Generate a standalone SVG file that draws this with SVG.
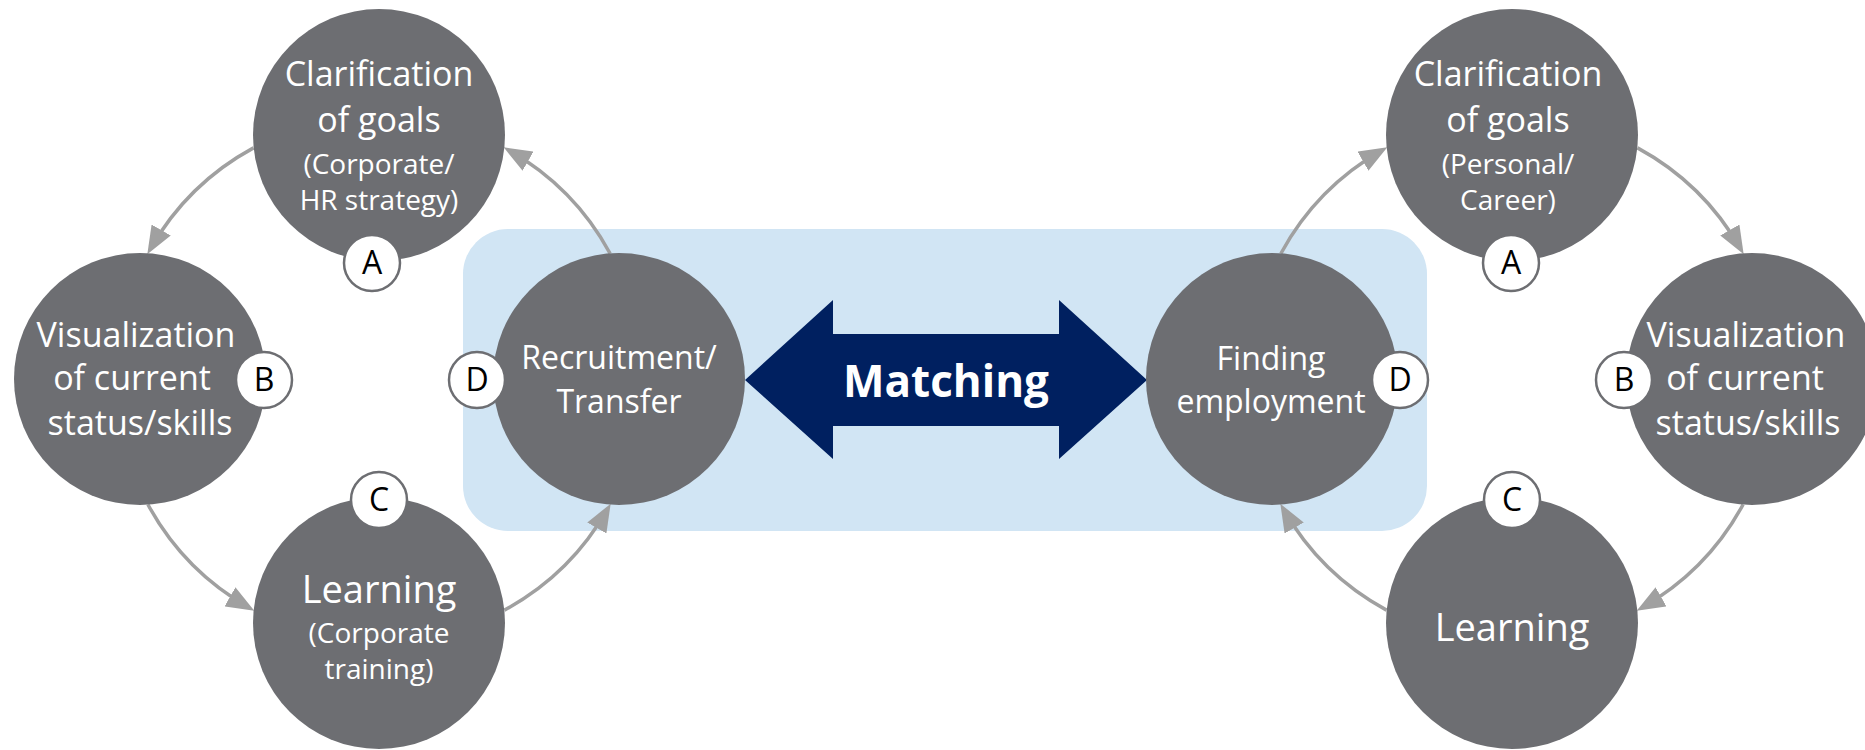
<svg xmlns="http://www.w3.org/2000/svg" width="1865" height="750" viewBox="0 0 1865 750">
  <style>
    .node { fill: #6d6e72; }
    .txt { font-family: "Open Sans", "Noto Sans", "Liberation Sans", sans-serif; fill: #ffffff; text-anchor: middle; }
    .big { font-size: 34px; }
    .small { font-size: 28px; }
    .learn { font-size: 38px; }
    .mid { font-size: 32px; }
    .badge circle { fill: #ffffff; stroke: #6d6e72; stroke-width: 2.5; }
    .badge text { font-family: "Open Sans", "Noto Sans", "Liberation Sans", sans-serif; font-size: 32px; fill: #000000; text-anchor: middle; }
    .flow { fill: none; stroke: #a0a0a0; stroke-width: 3.5; marker-end: url(#head); }
  </style>
  <defs>
    <marker id="head" markerUnits="userSpaceOnUse" markerWidth="28" markerHeight="22" viewBox="0 0 28 22" refX="22" refY="11" orient="auto">
      <path d="M0,0 L28,11 L0,22 Z" fill="#a0a0a0"/>
    </marker>
  </defs>

  <rect width="1865" height="750" fill="#ffffff"/>

  <!-- matching zone backdrop -->
  <rect id="matching-zone" x="463" y="229" width="964" height="302" rx="45" ry="45" fill="#d1e5f4"/>

  <!-- cycle connectors -->
  <g id="connectors">
    <!-- corporate cycle (counter-clockwise) -->
    <path class="flow" d="M253.5,147.9 A263,263 0 0 0 150.3,249.1"/>
    <path class="flow" d="M147.9,504.5 A263,263 0 0 0 249.1,607.7"/>
    <path class="flow" d="M504.5,610.1 A263,263 0 0 0 607.7,508.9"/>
    <path class="flow" d="M610.1,253.5 A263,263 0 0 0 508.9,150.3"/>
    <!-- personal cycle (clockwise) -->
    <path class="flow" d="M1280.9,253.5 A263,263 0 0 1 1382.1,150.3"/>
    <path class="flow" d="M1637.5,147.9 A263,263 0 0 1 1740.7,249.1"/>
    <path class="flow" d="M1743.1,504.5 A263,263 0 0 1 1641.9,607.7"/>
    <path class="flow" d="M1386.5,610.1 A263,263 0 0 1 1283.3,508.9"/>
  </g>

  <!-- double arrow -->
  <g id="matching">
    <polygon points="745,380 833,300 833,334 1059,334 1059,300 1147,380 1059,459 1059,426 833,426 833,459" fill="#002060"/>
    <text x="946" y="397" font-family="'Open Sans', 'Noto Sans', 'Liberation Sans', sans-serif" font-size="44" font-weight="bold" fill="#ffffff" text-anchor="middle">Matching</text>
  </g>

  <!-- corporate side -->
  <g id="corp-goals">
    <circle class="node" cx="379" cy="135" r="126"/>
    <text class="txt big" x="379" y="86">Clarification</text>
    <text class="txt big" x="379" y="132">of goals</text>
    <text class="txt small" x="379" y="174">(Corporate/</text>
    <text class="txt small" x="379" y="210">HR strategy)</text>
    <g class="badge"><circle cx="372" cy="263" r="28"/><text x="372" y="274">A</text></g>
  </g>

  <g id="corp-visualization">
    <circle class="node" cx="140" cy="379" r="126"/>
    <text class="txt big" x="136" y="347">Visualization</text>
    <text class="txt big" x="132" y="390">of current</text>
    <text class="txt big" x="140" y="435">status/skills</text>
    <g class="badge"><circle cx="264" cy="380" r="28"/><text x="264" y="391">B</text></g>
  </g>

  <g id="corp-learning">
    <circle class="node" cx="379" cy="623" r="126"/>
    <text class="txt learn" x="379" y="603">Learning</text>
    <text class="txt small" x="379" y="643">(Corporate</text>
    <text class="txt small" x="379" y="679">training)</text>
    <g class="badge"><circle cx="379" cy="500" r="28"/><text x="379" y="511">C</text></g>
  </g>

  <g id="corp-recruitment">
    <circle class="node" cx="619" cy="379" r="126"/>
    <text class="txt mid" x="619" y="369">Recruitment/</text>
    <text class="txt mid" x="619" y="413">Transfer</text>
    <g class="badge"><circle cx="477" cy="380" r="28"/><text x="477" y="391">D</text></g>
  </g>

  <!-- personal side -->
  <g id="pers-employment">
    <circle class="node" cx="1272" cy="379" r="126"/>
    <text class="txt mid" x="1271" y="370">Finding</text>
    <text class="txt mid" x="1271" y="413">employment</text>
    <g class="badge"><circle cx="1400" cy="380" r="28"/><text x="1400" y="391">D</text></g>
  </g>

  <g id="pers-goals">
    <circle class="node" cx="1512" cy="135" r="126"/>
    <text class="txt big" x="1508" y="86">Clarification</text>
    <text class="txt big" x="1508" y="132">of goals</text>
    <text class="txt small" x="1508" y="174">(Personal/</text>
    <text class="txt small" x="1508" y="210">Career)</text>
    <g class="badge"><circle cx="1511" cy="263" r="28"/><text x="1511" y="274">A</text></g>
  </g>

  <g id="pers-visualization">
    <circle class="node" cx="1752" cy="379" r="126"/>
    <text class="txt big" x="1746" y="347">Visualization</text>
    <text class="txt big" x="1745" y="390">of current</text>
    <text class="txt big" x="1748" y="435">status/skills</text>
    <g class="badge"><circle cx="1624" cy="380" r="28"/><text x="1624" y="391">B</text></g>
  </g>

  <g id="pers-learning">
    <circle class="node" cx="1512" cy="623" r="126"/>
    <text class="txt learn" x="1512" y="641">Learning</text>
    <g class="badge"><circle cx="1512" cy="500" r="28"/><text x="1512" y="511">C</text></g>
  </g>
</svg>
